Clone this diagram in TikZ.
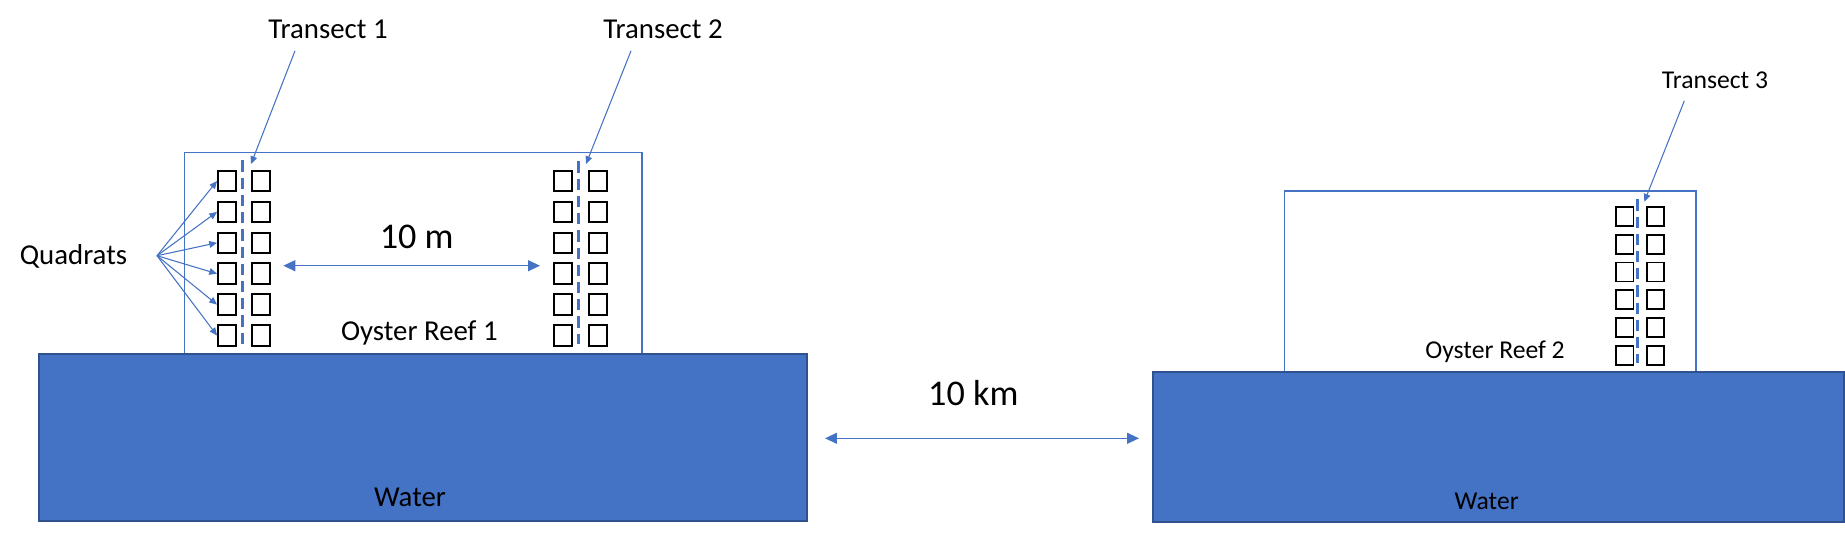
\documentclass[tikz,border=0pt]{standalone}
\usepackage{fontspec}
\setmainfont{Carlito}
\usetikzlibrary{arrows.meta}
\definecolor{reefblue}{HTML}{4472C4}
\definecolor{waterline}{HTML}{2F528F}

\begin{document}
\begin{tikzpicture}[every node/.style={font=\fontsize{8.2}{9.8}\selectfont},
    water/.style={fill=reefblue, draw=waterline, line width=0.5pt},
    reef/.style={draw=reefblue, line width=0.45pt},
    quad/.style={draw=black, line width=0.55pt, minimum width=1.8mm, minimum height=2.05mm, inner sep=0pt},
    smallquad/.style={quad, minimum width=1.75mm, minimum height=1.9mm},
    transect/.style={reefblue, line width=0.8pt, dash pattern=on 3.2pt off 1.7pt},
    pointer/.style={reefblue, line width=0.3pt, -{Triangle[length=2.2pt,width=1.9pt]}},
    span/.style={reefblue, line width=0.4pt, {Triangle[length=3.4pt,width=3.1pt]}-{Triangle[length=3.4pt,width=3.1pt]}},
    big/.style={font=\fontsize{10.3}{12.4}\selectfont},
    small/.style={font=\fontsize{7.3}{8.8}\selectfont}]

    \useasboundingbox (0,0) rectangle (18.45,5.33);

    % Reefs and water
    \draw[reef] (1.843,1.79) rectangle (6.417,3.803);
    \draw[reef] (12.843,1.607) rectangle (16.957,3.42);
    \draw[water] (0.39,0.12) rectangle (8.067,1.79);
    \draw[water] (11.533,0.108) rectangle (18.44,1.607);

    % Labels
    \node (w1) at (4.10,0.36) {Water};
    \node[small] (w2) at (14.867,0.32) {Water};
    \node (r1) at (4.193,2.0) {Oyster Reef 1};
    \node[small] (r2) at (14.95,1.81) {Oyster Reef 2};
    \node[big] (m10) at (4.167,2.963) {10 m};
    \node[big] (km10) at (9.733,1.397) {10 km};
    \node (t1) at (3.28,5.04) {Transect 1};
    \node (t2) at (6.63,5.04) {Transect 2};
    \node[small] (t3) at (17.15,4.53) {Transect 3};
    \node (q) at (0.735,2.763) {Quadrats};

    % Quadrats along the transects
    \foreach \i in {1,...,6} {
        \node[quad] (L1-\i) at (2.27,{3.52-0.309*(\i-1)}) {};
        \node[quad] (R1-\i) at (2.61,{3.52-0.309*(\i-1)}) {};
        \node[quad] (L2-\i) at (5.628,{3.52-0.309*(\i-1)}) {};
        \node[quad] (R2-\i) at (5.977,{3.52-0.309*(\i-1)}) {};
        \node[smallquad] (L3-\i) at (16.247,{3.167-0.2785*(\i-1)}) {};
        \node[smallquad] (R3-\i) at (16.555,{3.167-0.2785*(\i-1)}) {};
    }

    % Transect lines
    \coordinate (tr1top) at (2.427,3.726);
    \coordinate (tr1bot) at (2.427,1.89);
    \coordinate (tr2top) at (5.783,3.716);
    \coordinate (tr2bot) at (5.783,1.89);
    \coordinate (tr3top) at (16.377,3.337);
    \coordinate (tr3bot) at (16.377,1.697);
    \draw[transect] (tr1top) -- (tr1bot);
    \draw[transect] (tr2top) -- (tr2bot);
    \draw[transect] (tr3top) -- (tr3bot);

    % Pointers from the labels
    \coordinate (t1tip) at (2.51,3.69);
    \coordinate (t2tip) at (5.86,3.69);
    \coordinate (t3tip) at (16.443,3.313);
    \draw[pointer] ([xshift=-3.3mm]t1.south) -- (t1tip);
    \draw[pointer] ([xshift=-3.2mm]t2.south) -- (t2tip);
    \draw[pointer] ([xshift=-3.07mm]t3.south) -- (t3tip);

    \coordinate (qsrc) at (1.57,2.773);
    \foreach \i in {1,...,6}
        \draw[pointer] (qsrc) -- (L1-\i.west);

    % Distances
    \coordinate (m10a) at (2.833,2.673);
    \coordinate (m10b) at (5.40,2.673);
    \coordinate (km10a) at (8.25,0.947);
    \coordinate (km10b) at (11.39,0.947);
    \draw[span] (m10a) -- (m10b);
    \draw[span] (km10a) -- (km10b);

\end{tikzpicture}
\end{document}
